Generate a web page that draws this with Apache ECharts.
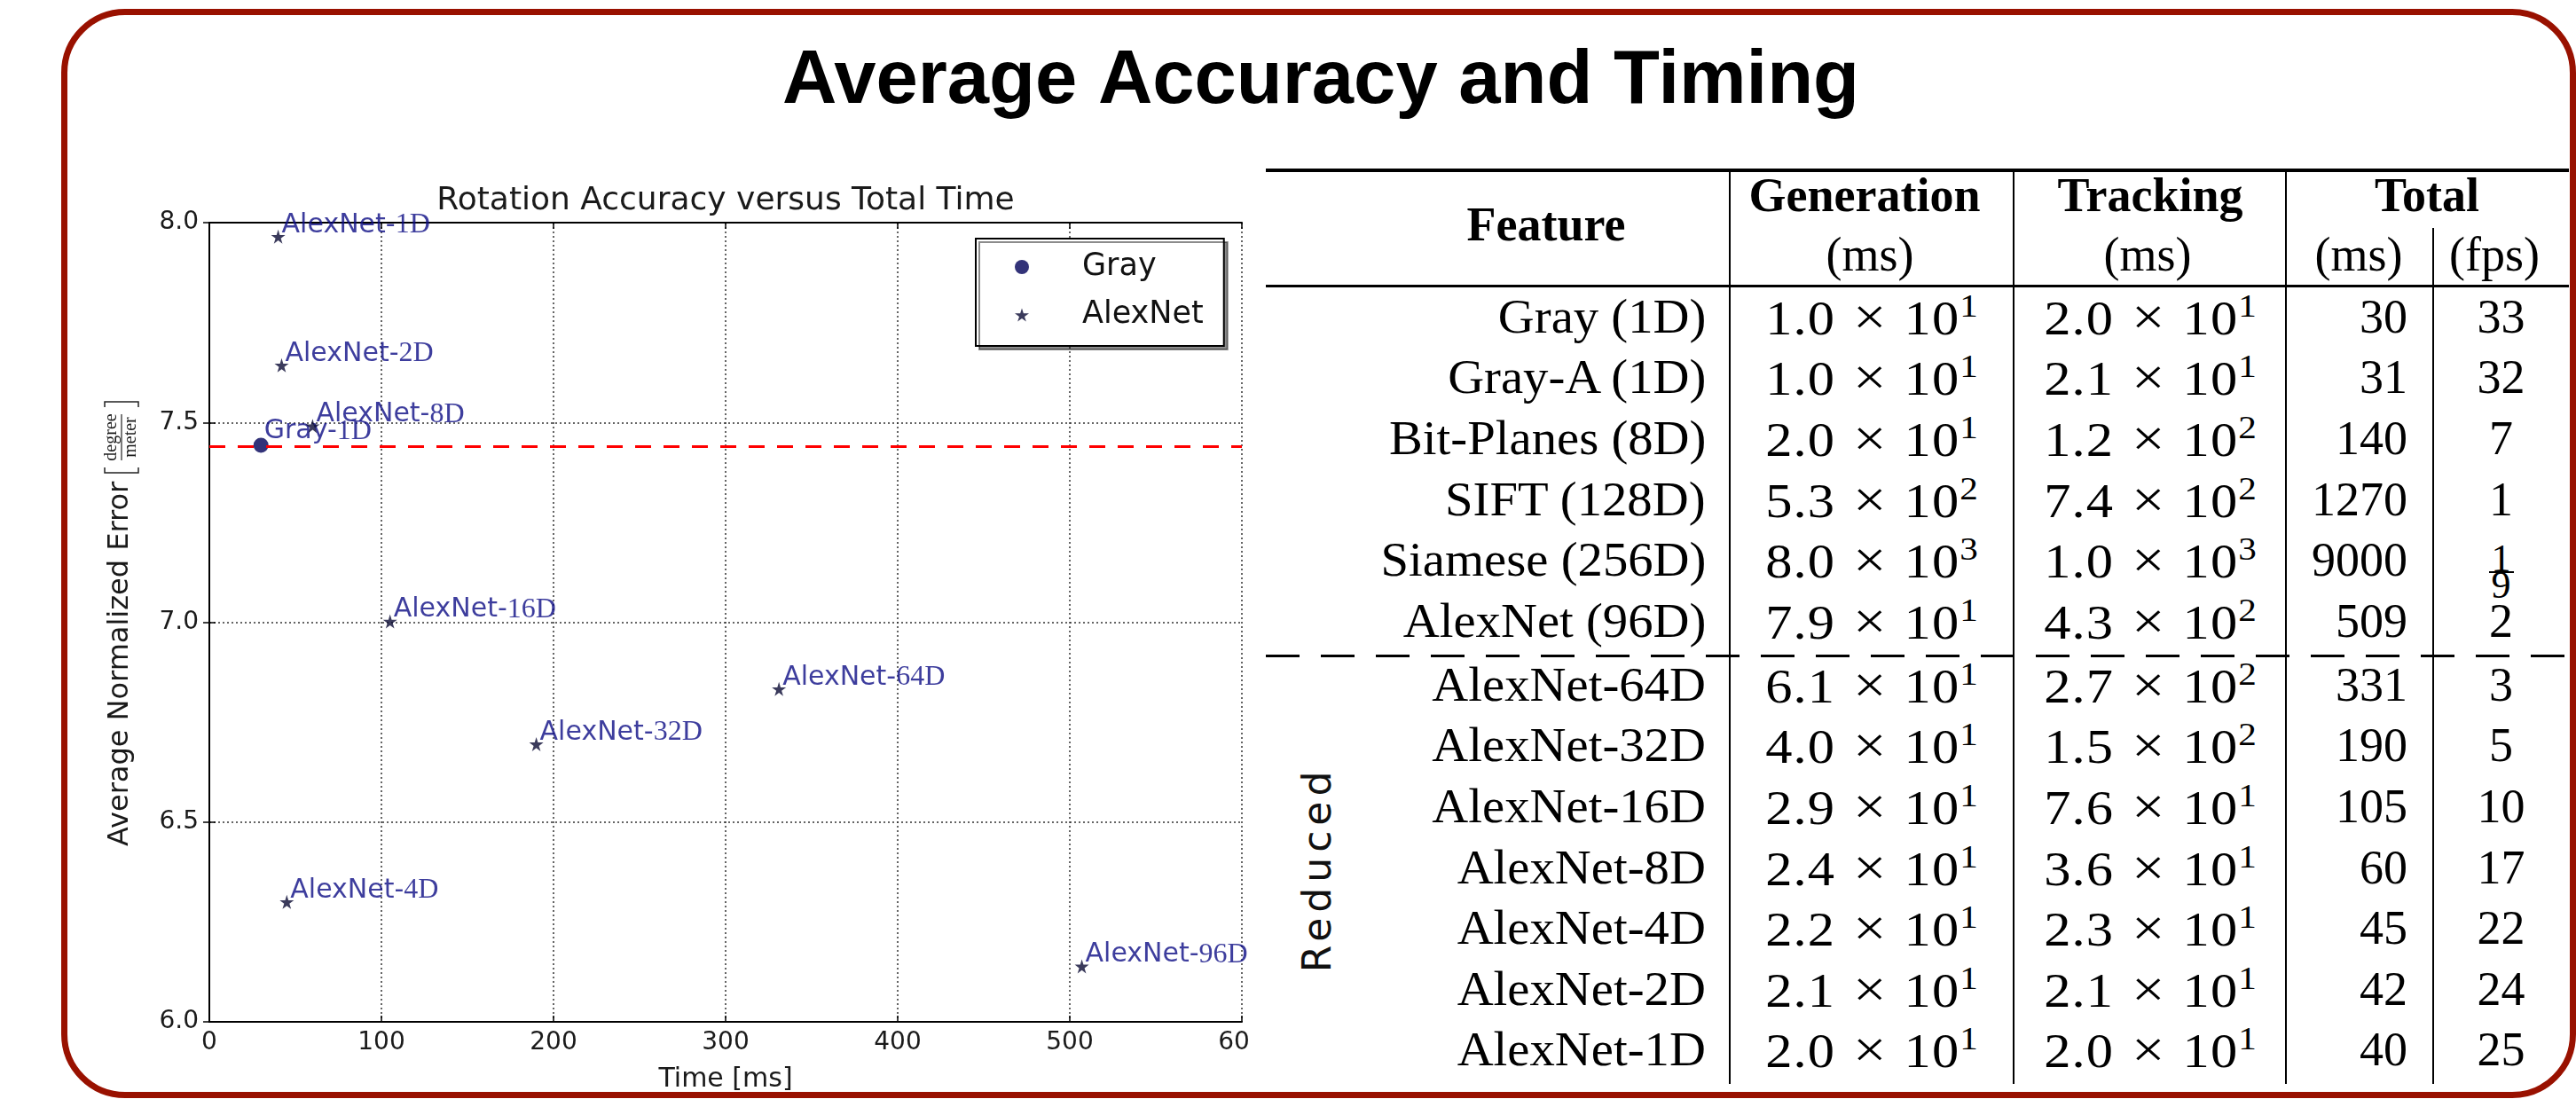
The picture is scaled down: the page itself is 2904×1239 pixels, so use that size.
<!DOCTYPE html>
<html>
<head>
<meta charset="utf-8">
<script src="https://cdn.jsdelivr.net/npm/echarts@6/dist/echarts.min.js"></script>
<style>
html,body{margin:0;padding:0;width:2904px;height:1239px;overflow:hidden;background:#fff;}
#chart{position:absolute;left:0;top:0;width:2904px;height:1239px;z-index:1;}
#mask{position:absolute;left:1407px;top:170px;width:1489px;height:1060px;background:#fff;z-index:2;}
#tbl{position:absolute;left:0;top:0;width:0;height:0;z-index:3;}
#frame{position:absolute;left:69px;top:10px;width:2835px;height:1228px;box-sizing:border-box;border:7px solid #991100;border-radius:72px;pointer-events:none;z-index:5;}
.cell{position:absolute;font-family:"Liberation Serif",serif;font-size:54px;color:#000;white-space:nowrap;}
.hdr{font-weight:bold;}
.wide{display:inline-block;transform:scaleX(1.05);transform-origin:right center;}
.sciw{display:inline-block;transform:scaleX(1.12);transform-origin:center center;}
.num{letter-spacing:1px;}
.x{margin:0 0.3em;font-size:1.1em;}
.sup{font-size:0.68em;position:relative;top:-20px;}
.frac{display:inline-block;vertical-align:middle;font-size:44px;line-height:28px;text-align:center;position:relative;top:8px;}
.fn{display:block;border-bottom:2px solid #000;padding:0 3px;}
.fd{display:block;}
.rule{position:absolute;background:#000;}
.reduced{position:absolute;font-family:"DejaVu Sans",sans-serif;font-size:44px;letter-spacing:6px;color:#111;text-align:center;transform:rotate(-90deg);white-space:nowrap;}
</style>
</head>
<body>
<div id="chart"></div>
<div id="mask"></div>
<div id="tbl"></div>
<div id="frame"></div>
<script>
// ---------------- chart data ----------------
const grayNames = ['Gray-1D'];
const grayTime = [30];
const grayError = [7.443];

const alexNames = ['AlexNet-1D', 'AlexNet-2D', 'AlexNet-4D', 'AlexNet-8D', 'AlexNet-16D', 'AlexNet-32D', 'AlexNet-64D', 'AlexNet-96D'];
const alexTime = [40, 42, 45, 60, 105, 190, 331, 507];
const alexError = [7.965, 7.643, 6.30, 7.491, 7.002, 6.695, 6.833, 6.139];

const xTickValues = [0, 100, 200, 300, 400, 500, 600];
const yTickValues = [6.0, 6.5, 7.0, 7.5, 8.0];

const chartTitle = 'Rotation Accuracy versus Total Time';
const pageTitle = 'Average Accuracy and Timing';
const xAxisName = 'Time [ms]';
const yAxisName = 'Average Normalized Error';
const yUnitNum = 'degree';
const yUnitDen = 'meter';

// ---------------- table data ----------------
const headerTop = ['Generation', 'Tracking', 'Total'];
const headerUnits = ['(ms)', '(ms)', '(ms)', '(fps)'];
const featureHeader = 'Feature';
const reducedLabel = 'Reduced';
const featureNames = ['Gray (1D)', 'Gray-A (1D)', 'Bit-Planes (8D)', 'SIFT (128D)', 'Siamese (256D)', 'AlexNet (96D)',
  'AlexNet-64D', 'AlexNet-32D', 'AlexNet-16D', 'AlexNet-8D', 'AlexNet-4D', 'AlexNet-2D', 'AlexNet-1D'];
const genMantissa = ['1.0', '1.0', '2.0', '5.3', '8.0', '7.9', '6.1', '4.0', '2.9', '2.4', '2.2', '2.1', '2.0'];
const genExponent = ['1', '1', '1', '2', '3', '1', '1', '1', '1', '1', '1', '1', '1'];
const trackMantissa = ['2.0', '2.1', '1.2', '7.4', '1.0', '4.3', '2.7', '1.5', '7.6', '3.6', '2.3', '2.1', '2.0'];
const trackExponent = ['1', '1', '2', '2', '3', '2', '2', '2', '1', '1', '1', '1', '1'];
const totalMs = ['30', '31', '140', '1270', '9000', '509', '331', '190', '105', '60', '45', '42', '40'];
const totalFps = ['33', '32', '7', '1', '1/9', '2', '3', '5', '10', '17', '22', '24', '25'];

// ---------------- chart ----------------
const STAR = 'path://M50,0 L61,35 L98,35 L68,57 L79,91 L50,70 L21,91 L32,57 L2,35 L39,35 Z';
const labelColor = '#0c0c84';
function labelFmt(p) {
  const n = p.name; const k = n.indexOf('-');
  return n.slice(0, k + 1) + '{s|' + n.slice(k + 1) + '}';
}
const labelBase = {
  show: true, formatter: labelFmt, align: 'left', verticalAlign: 'bottom',
  fontFamily: 'DejaVu Sans', fontSize: 30, color: labelColor,
  rich: { s: { fontFamily: 'Liberation Serif', fontSize: 32, color: labelColor } }
};

const chart = echarts.init(document.getElementById('chart'), null, { renderer: 'canvas' });
const axisFont = { fontFamily: 'DejaVu Sans', fontSize: 28, color: '#1a1a1a' };
const splitStyle = { show: true, lineStyle: { color: '#333', type: [2, 3], width: 1.5 } };

chart.setOption({
  animation: false,
  grid: { left: 236, top: 251, width: 1164, height: 901 },
  xAxis: [{
    type: 'value', position: 'bottom',
    min: xTickValues[0], max: xTickValues[xTickValues.length - 1], interval: xTickValues[1] - xTickValues[0],
    axisLine: { show: true, lineStyle: { color: '#000', width: 2 } },
    axisTick: { show: true, inside: true, length: 7, lineStyle: { color: '#000', width: 1.5 } },
    axisLabel: Object.assign({ margin: 10, formatter: v => String(v) }, axisFont),
    splitLine: splitStyle,
    name: xAxisName, nameLocation: 'middle', nameGap: 50,
    nameTextStyle: { fontFamily: 'DejaVu Sans', fontSize: 30, color: '#1a1a1a' }
  }, {
    type: 'value', position: 'top',
    min: xTickValues[0], max: xTickValues[xTickValues.length - 1], interval: xTickValues[1] - xTickValues[0],
    axisLine: { show: true, lineStyle: { color: '#000', width: 2 } },
    axisTick: { show: true, inside: true, length: 7, lineStyle: { color: '#000', width: 1.5 } },
    axisLabel: { show: false }, splitLine: { show: false }
  }],
  yAxis: [{
    type: 'value', position: 'left',
    min: yTickValues[0], max: yTickValues[yTickValues.length - 1], interval: yTickValues[1] - yTickValues[0],
    axisLine: { show: true, lineStyle: { color: '#000', width: 2 } },
    axisTick: { show: true, inside: true, length: 7, lineStyle: { color: '#000', width: 1.5 } },
    axisLabel: Object.assign({ margin: 12, formatter: v => v.toFixed(1) }, axisFont),
    splitLine: splitStyle
  }, {
    type: 'value', position: 'right',
    min: yTickValues[0], max: yTickValues[yTickValues.length - 1], interval: yTickValues[1] - yTickValues[0],
    axisLine: { show: true, lineStyle: { color: '#000', width: 2 } },
    axisTick: { show: true, inside: true, length: 7, lineStyle: { color: '#000', width: 1.5 } },
    axisLabel: { show: false }, splitLine: { show: false }
  }],
  legend: {
    data: ['Gray', 'AlexNet'], orient: 'vertical', left: 1100, top: 269,
    padding: [14, 23, 17, 44], itemGap: 18, itemWidth: 16, itemHeight: 16,
    borderColor: '#000', borderWidth: 2, backgroundColor: '#fff',
    shadowColor: 'rgba(0,0,0,0.45)', shadowOffsetX: 4, shadowOffsetY: 4, shadowBlur: 0,
    selectedMode: false,
    textStyle: { fontFamily: 'DejaVu Sans', fontSize: 35, lineHeight: 36, color: '#111', padding: [0, 0, 0, 55] }
  },
  series: [{
    name: 'Gray', type: 'scatter', xAxisIndex: 0, yAxisIndex: 0,
    symbol: 'circle', symbolSize: 17,
    itemStyle: { color: '#000058' },
    data: grayTime.map((t, i) => ({ name: grayNames[i], value: [t, grayError[i]] })),
    label: Object.assign({ position: [12, 9] }, labelBase),
    markLine: {
      silent: true, symbol: ['none', 'none'], label: { show: false },
      lineStyle: { color: '#ff0000', type: [18, 14], width: 3 },
      data: [{ yAxis: grayError[0] }]
    },
    z: 3
  }, {
    name: 'AlexNet', type: 'scatter', xAxisIndex: 0, yAxisIndex: 0,
    symbol: STAR, symbolSize: 16,
    itemStyle: { color: '#0a0a33' },
    data: alexTime.map((t, i) => ({ name: alexNames[i], value: [t, alexError[i]] })),
    label: Object.assign({ position: [12, 11] }, labelBase),
    z: 4
  }],
  graphic: [
    { type: 'text', x: 1489, y: 93, z: 10,
      style: { text: pageTitle, font: 'bold 85px "Liberation Sans"', fill: '#000', align: 'center', verticalAlign: 'middle', textAlign: 'center', textVerticalAlign: 'middle' } },
    { type: 'text', x: 818, y: 227, z: 10,
      style: { text: chartTitle, font: '36px "DejaVu Sans"', fill: '#1a1a1a', align: 'center', verticalAlign: 'middle', textAlign: 'center', textVerticalAlign: 'middle' } },
    { type: 'group', x: 133, y: 699, rotation: Math.PI / 2, z: 10,
      children: [
        { type: 'text', style: { x: -255, y: 3, text: yAxisName, font: '32px "DejaVu Sans"', fill: '#1a1a1a', align: 'left', verticalAlign: 'middle', textAlign: 'left', textVerticalAlign: 'middle' } },
        { type: 'polyline', shape: { points: [[172, -15], [166, -15], [166, 23], [172, 23]] }, style: { stroke: '#222', lineWidth: 1.5, fill: null } },
        { type: 'polyline', shape: { points: [[240, -15], [246, -15], [246, 23], [240, 23]] }, style: { stroke: '#222', lineWidth: 1.5, fill: null } },
        { type: 'line', shape: { x1: 180, y1: 4, x2: 232, y2: 4 }, style: { stroke: '#222', lineWidth: 1.2 } },
        { type: 'text', style: { x: 206, y: -7, text: yUnitNum, font: '20px "Liberation Serif"', fill: '#1a1a1a', align: 'center', verticalAlign: 'middle', textAlign: 'center', textVerticalAlign: 'middle' } },
        { type: 'text', style: { x: 206, y: 15, text: yUnitDen, font: '20px "Liberation Serif"', fill: '#1a1a1a', align: 'center', verticalAlign: 'middle', textAlign: 'center', textVerticalAlign: 'middle' } }
      ] }
  ]
});

// ---------------- table (HTML) ----------------
const tbl = document.getElementById('tbl');
const ROWH = 68.6;
function rowCenter(i) { return 357 + i * ROWH + (i >= 6 ? 3.4 : 0); }
function addCell(html, left, width, cy, h, align, cls) {
  const d = document.createElement('div');
  d.className = 'cell' + (cls ? ' ' + cls : '');
  d.innerHTML = html;
  d.style.left = left + 'px'; d.style.width = width + 'px';
  d.style.top = (cy - h / 2) + 'px'; d.style.height = h + 'px';
  d.style.lineHeight = h + 'px'; d.style.textAlign = align;
  tbl.appendChild(d);
}
function addRule(l, t, w, h, bg) {
  const d = document.createElement('div');
  d.className = 'rule';
  d.style.left = l + 'px'; d.style.top = t + 'px'; d.style.width = w + 'px'; d.style.height = h + 'px';
  if (bg) d.style.background = bg;
  tbl.appendChild(d);
}
function sci(m, e) {
  return '<span class="sciw"><span class="num">' + m + '</span><span class="x">×</span><span class="num">10</span><span class="sup">' + e + '</span></span>';
}
function fps(v) {
  if (v.indexOf('/') >= 0) {
    const p = v.split('/');
    return '<span class="frac"><span class="fn">' + p[0] + '</span><span class="fd">' + p[1] + '</span></span>';
  }
  return v;
}

// rules
addRule(1427, 190, 1469, 4);
addRule(1427, 321, 1469, 3);
addRule(1949, 192, 2, 1030);
addRule(2269, 192, 2, 1030);
addRule(2576, 192, 2, 1030);
addRule(2742, 257, 2, 965);
addRule(1427, 738, 1469, 3, 'repeating-linear-gradient(to right,#000 0px,#000 38px,transparent 38px,transparent 62px)');

// headers
addCell(featureHeader, 1543, 400, 253, 70, 'center', 'hdr');
const topCenters = [2102, 2424, 2736];
headerTop.forEach((h, i) => addCell(h, topCenters[i] - 200, 400, 220, 66, 'center', 'hdr'));
const unitCenters = [2108, 2421, 2659, 2812];
headerUnits.forEach((h, i) => addCell(h, unitCenters[i] - 100, 200, 287, 66, 'center'));

// body
featureNames.forEach((f, i) => {
  const cy = rowCenter(i);
  addCell('<span class="wide">' + f + '</span>', 1427, 496, cy, ROWH, 'right');
  addCell(sci(genMantissa[i], genExponent[i]), 1950, 320, cy, ROWH, 'center');
  addCell(sci(trackMantissa[i], trackExponent[i]), 2270, 307, cy, ROWH, 'center');
  addCell(totalMs[i], 2577, 137, cy, ROWH, 'right');
  addCell(fps(totalFps[i]), 2743, 153, cy, ROWH, 'center');
});

// "Reduced" rotated label
const r = document.createElement('div');
r.className = 'reduced';
r.textContent = reducedLabel;
r.style.left = (1485 - 150) + 'px'; r.style.top = (980 - 30) + 'px';
r.style.width = '300px'; r.style.height = '60px'; r.style.lineHeight = '60px';
tbl.appendChild(r);
</script>
</body>
</html>
